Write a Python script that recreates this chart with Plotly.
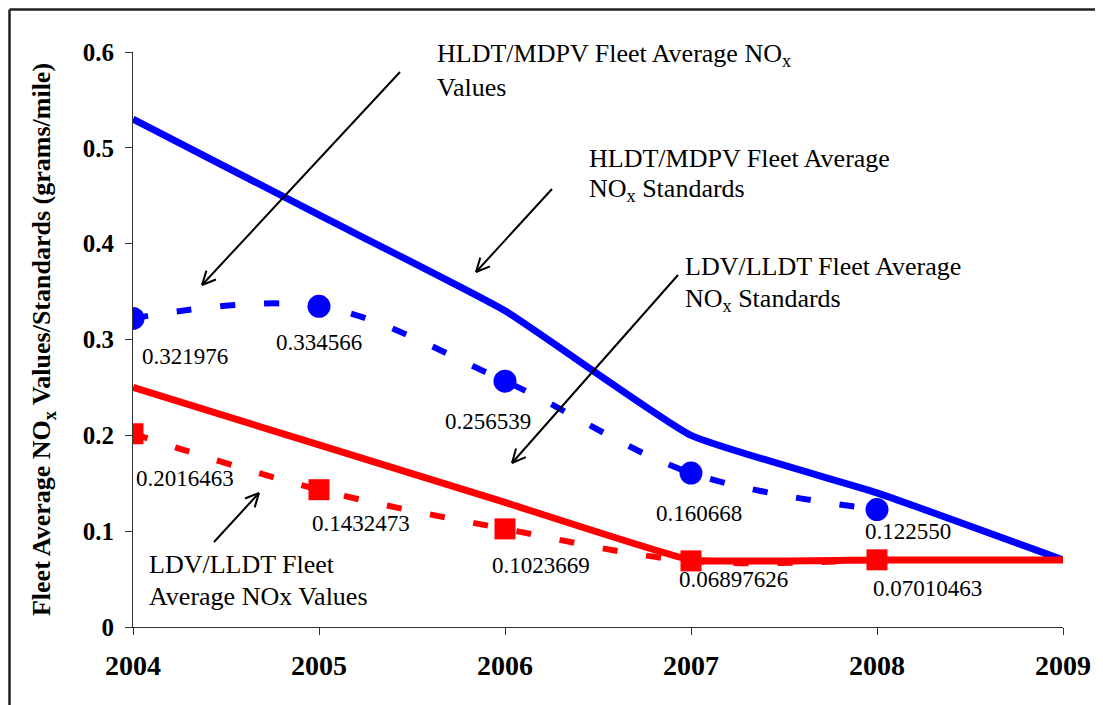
import math
import plotly.graph_objects as go

years = [2004, 2005, 2006, 2007, 2008, 2009]
hldt_std = [0.53, 0.43, 0.33, 0.20, 0.14, 0.07]
ldv_std = [0.25, 0.19, 0.13, 0.07, 0.07, 0.07]
val_years = [2004, 2005, 2006, 2007, 2008]
hldt_vals = [0.321976, 0.334566, 0.256539, 0.160668, 0.122550]
hldt_lbls = ["0.321976", "0.334566", "0.256539", "0.160668", "0.122550"]
ldv_vals = [0.2016463, 0.1432473, 0.1023669, 0.06897626, 0.07010463]
ldv_lbls = ["0.2016463", "0.1432473", "0.1023669", "0.06897626", "0.07010463"]
y_ticks = [0, 0.1, 0.2, 0.3, 0.4, 0.5, 0.6]
y_ticktext = ["0", "0.1", "0.2", "0.3", "0.4", "0.5", "0.6"]

# label offsets (pixels) -- styling only
hldt_off = [(52, -38), (0, -36), (-17, -40), (8, -40), (31, -22)]
ldv_off = [(52, -45), (42, -34), (36, -37), (42, -19), (50, -29)]

# page body has an 8px margin; plot area in screen pixels: x 133..1063, y 52..627
OFF = 8
W, H = 1103, 705
SL, ST, SR, SB = 133, 52, 1063, 627
L, T = SL - OFF, ST - OFF
R = OFF + W - SR
B = OFF + H - SB
PW, PH = SR - SL, SB - ST

def px(x):
    return (x - SL) / PW

def py(y):
    return (SB - y) / PH

SERIF = "Liberation Serif, Times New Roman, serif"
BLUE = "#0000FF"
RED = "#FF0000"

fig = go.Figure()
fig.add_trace(go.Scatter(x=years, y=hldt_std, mode="lines",
                         line=dict(color=BLUE, width=7, shape="spline", smoothing=0.4),
                         showlegend=False, hoverinfo="skip"))
fig.add_trace(go.Scatter(x=years, y=ldv_std, mode="lines",
                         line=dict(color=RED, width=7, shape="spline", smoothing=0.3),
                         showlegend=False, hoverinfo="skip"))
fig.add_trace(go.Scatter(x=val_years, y=hldt_vals, mode="lines+markers",
                         line=dict(color=BLUE, width=6, dash="15px,29px", shape="spline", smoothing=1),
                         marker=dict(symbol="circle", size=23, color=BLUE),
                         showlegend=False, hoverinfo="skip"))
fig.add_trace(go.Scatter(x=val_years, y=ldv_vals, mode="lines+markers",
                         line=dict(color=RED, width=6, dash="15px,29px", shape="spline", smoothing=1),
                         marker=dict(symbol="square", size=21, color=RED),
                         showlegend=False, hoverinfo="skip"))

annotations = []
for xv, yv, t, (dx, dy) in zip(val_years, hldt_vals, hldt_lbls, hldt_off):
    annotations.append(dict(x=xv, y=yv, text=t, showarrow=False, xanchor="center",
                            yanchor="middle", xshift=dx, yshift=dy,
                            font=dict(family=SERIF, size=23, color="black")))
for xv, yv, t, (dx, dy) in zip(val_years, ldv_vals, ldv_lbls, ldv_off):
    annotations.append(dict(x=xv, y=yv, text=t, showarrow=False, xanchor="center",
                            yanchor="middle", xshift=dx, yshift=dy,
                            font=dict(family=SERIF, size=23, color="black")))

callouts = [
    ("HLDT/MDPV Fleet Average NO<sub>x</sub>", 435, 55),
    ("Values", 435, 88),
    ("HLDT/MDPV Fleet Average", 587, 158),
    ("NO<sub>x</sub> Standards", 587, 190),
    ("LDV/LLDT Fleet Average", 683, 266),
    ("NO<sub>x</sub> Standards", 683, 300),
    ("LDV/LLDT Fleet", 147, 564),
    ("Average NOx Values", 147, 596),
]
for t, x0, y0 in callouts:
    annotations.append(dict(xref="paper", yref="paper", x=px(x0), y=py(y0), text=t,
                            showarrow=False, xanchor="left", yanchor="middle",
                            font=dict(family=SERIF, size=26, color="black")))

shapes = []
arrows = [((400, 72), (202, 285)), ((552, 189), (476, 272)),
          ((678, 275), (512, 463)), ((214, 542), (259, 493))]
for (tx, ty), (hx, hy) in arrows:
    shapes.append(dict(type="line", xref="paper", yref="paper",
                       x0=px(tx), y0=py(ty), x1=px(hx), y1=py(hy),
                       line=dict(color="black", width=2)))
    ang = math.atan2(ty - hy, tx - hx)
    for s in (-0.45, 0.45):
        ex = hx + 15 * math.cos(ang + s)
        ey = hy + 15 * math.sin(ang + s)
        shapes.append(dict(type="line", xref="paper", yref="paper",
                           x0=px(hx), y0=py(hy), x1=px(ex), y1=py(ey),
                           line=dict(color="black", width=2)))

# outer frame (top and left edges visible)
shapes.append(dict(type="line", xref="paper", yref="paper", x0=px(9.5), y0=py(9.5),
                   x1=px(1120), y1=py(9.5), line=dict(color="#222", width=2.5)))
shapes.append(dict(type="line", xref="paper", yref="paper", x0=px(9.5), y0=py(9.5),
                   x1=px(9.5), y1=py(720), line=dict(color="#222", width=2.5)))

fig.update_layout(
    width=W, height=H,
    margin=dict(l=L, r=R, t=T, b=B),
    paper_bgcolor="white", plot_bgcolor="white",
    annotations=annotations, shapes=shapes,
    xaxis=dict(range=[2004, 2009], tickvals=years, ticktext=[str(y) for y in years],
               showgrid=False, zeroline=False, showline=True, linecolor="#333", linewidth=1,
               ticks="outside", ticklen=7, tickcolor="#333",
               tickfont=dict(family=SERIF, size=28, color="black", weight="bold"),
               ticklabelstandoff=6),
    yaxis=dict(range=[0, 0.6], tickvals=y_ticks, ticktext=y_ticktext,
               showgrid=False, zeroline=False, showline=True, linecolor="#333", linewidth=1,
               ticks="outside", ticklen=7, tickcolor="#333",
               tickfont=dict(family=SERIF, size=25, color="black", weight="bold"),
               ticklabelstandoff=6,
               title=dict(text="Fleet Average NO<sub>x</sub> Values/Standards (grams/mile)",
                          font=dict(family=SERIF, size=26, color="black", weight="bold"),
                          standoff=24)),
)

fig.write_html("out.html")
